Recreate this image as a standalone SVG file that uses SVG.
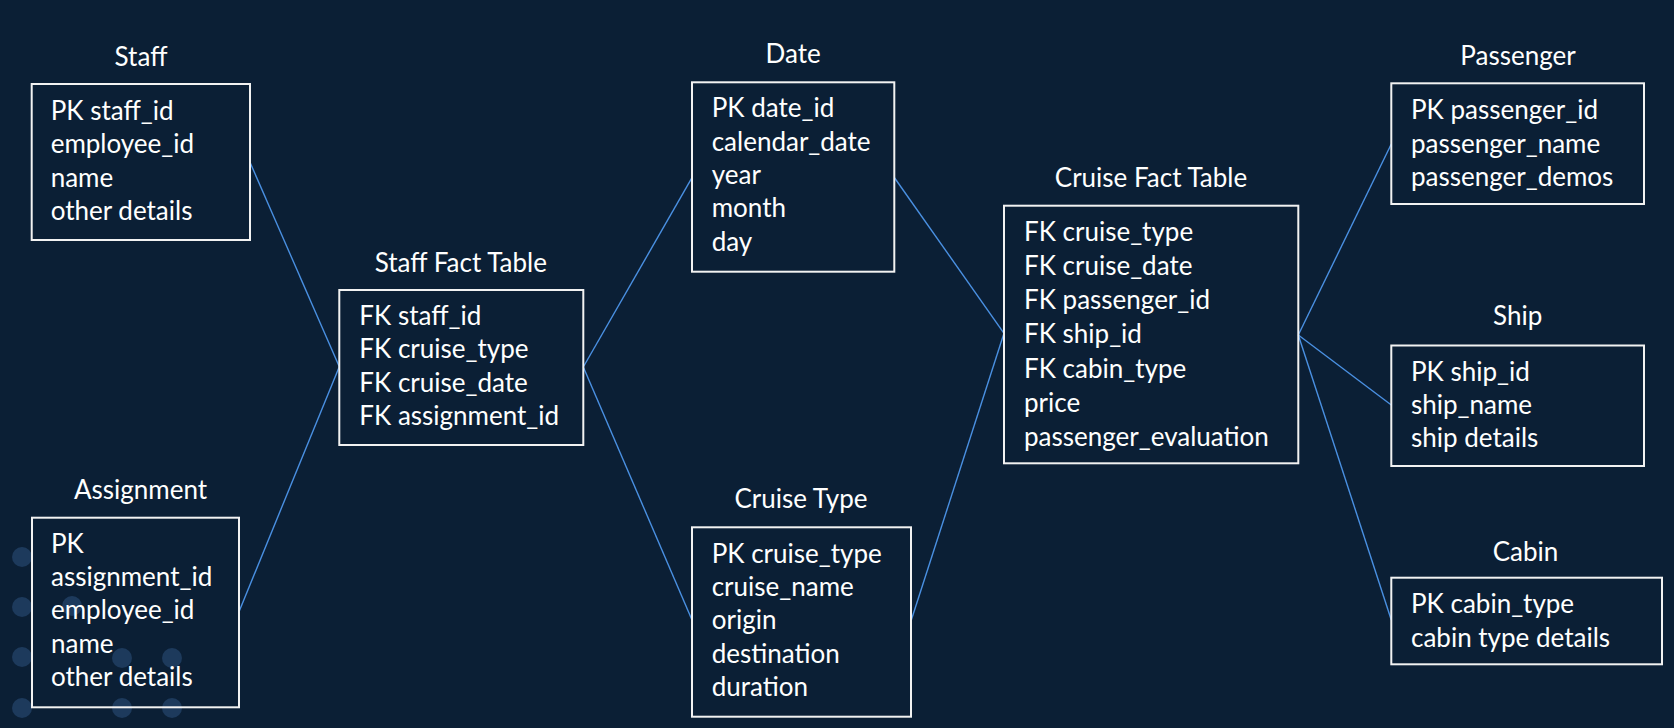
<svg xmlns="http://www.w3.org/2000/svg" width="1674" height="728" viewBox="0 0 1674 728">
<style>
.box{fill:none;stroke:#f2f2f2;stroke-width:2}
.t{font-family:Lato,"Liberation Sans",sans-serif;font-size:26px;fill:#ffffff}
.h{text-anchor:middle}
.c{stroke:#4a90e2;stroke-width:1.4;fill:none}
.dot{fill:#1d3a5c}
</style>
<rect width="1674" height="728" fill="#0b1f35"/>
<g id="decor">
<circle class="dot" cx="22" cy="557" r="10"/>
<circle class="dot" cx="22" cy="607" r="10"/>
<circle class="dot" cx="22" cy="657" r="10"/>
<circle class="dot" cx="22" cy="708" r="10"/>
<circle class="dot" cx="72" cy="606" r="10"/>
<circle class="dot" cx="122" cy="658" r="10"/>
<circle class="dot" cx="172" cy="658" r="10"/>
<circle class="dot" cx="122" cy="708" r="10"/>
<circle class="dot" cx="172" cy="708" r="10"/>
</g>
<g id="connectors">
<line class="c" x1="250" y1="162.3" x2="339.3" y2="366.7"/>
<line class="c" x1="239" y1="611.7" x2="339.3" y2="366.7"/>
<line class="c" x1="583.3" y1="367" x2="692" y2="177.7"/>
<line class="c" x1="583.3" y1="367" x2="692" y2="620"/>
<line class="c" x1="894.3" y1="177.5" x2="1004" y2="333.3"/>
<line class="c" x1="911" y1="621" x2="1004" y2="333.3"/>
<line class="c" x1="1298.3" y1="335" x2="1391.3" y2="144"/>
<line class="c" x1="1298.3" y1="335" x2="1391.3" y2="405"/>
<line class="c" x1="1298.3" y1="335" x2="1391.3" y2="620"/>
</g>
<g id="staff">
<text class="t h" x="141" y="66">Staff</text>
<rect class="box" x="31.7" y="84" width="218.3" height="156"/>
<text class="t" x="50.7" y="120">PK staff_id</text>
<text class="t" x="50.7" y="153.3">employee_id</text>
<text class="t" x="50.7" y="186.7">name</text>
<text class="t" x="50.7" y="220">other details</text>
</g>
<g id="assignment">
<text class="t h" x="140.5" y="499.3">Assignment</text>
<rect class="box" x="32" y="517.7" width="207" height="189.6"/>
<text class="t" x="51" y="552.7">PK</text>
<text class="t" x="51" y="586">assignment_id</text>
<text class="t" x="51" y="619.3">employee_id</text>
<text class="t" x="51" y="652.7">name</text>
<text class="t" x="51" y="686">other details</text>
</g>
<g id="staff-fact">
<text class="t h" x="460.8" y="271.7">Staff Fact Table</text>
<rect class="box" x="339.3" y="290" width="244" height="155"/>
<text class="t" x="359.3" y="325">FK staff_id</text>
<text class="t" x="359.3" y="358.3">FK cruise_type</text>
<text class="t" x="359.3" y="391.7">FK cruise_date</text>
<text class="t" x="359.3" y="425">FK assignment_id</text>
</g>
<g id="date">
<text class="t h" x="793.2" y="63.3">Date</text>
<rect class="box" x="692" y="82.3" width="202.3" height="189.4"/>
<text class="t" x="711.7" y="117.3">PK date_id</text>
<text class="t" x="711.7" y="150.7">calendar_date</text>
<text class="t" x="711.7" y="184">year</text>
<text class="t" x="711.7" y="217.3">month</text>
<text class="t" x="711.7" y="250.7">day</text>
</g>
<g id="cruise-type">
<text class="t h" x="801" y="508.3">Cruise Type</text>
<rect class="box" x="692" y="527.3" width="219" height="189.4"/>
<text class="t" x="711.7" y="562.7">PK cruise_type</text>
<text class="t" x="711.7" y="596">cruise_name</text>
<text class="t" x="711.7" y="629.3">origin</text>
<text class="t" x="711.7" y="662.7">destination</text>
<text class="t" x="711.7" y="696">duration</text>
</g>
<g id="cruise-fact">
<text class="t h" x="1151" y="187.3">Cruise Fact Table</text>
<rect class="box" x="1004" y="205.7" width="294.3" height="257.6"/>
<text class="t" x="1024" y="240.7">FK cruise_type</text>
<text class="t" x="1024" y="275">FK cruise_date</text>
<text class="t" x="1024" y="309.2">FK passenger_id</text>
<text class="t" x="1024" y="343.4">FK ship_id</text>
<text class="t" x="1024" y="377.6">FK cabin_type</text>
<text class="t" x="1024" y="411.8">price</text>
<text class="t" x="1024" y="446">passenger_evaluation</text>
</g>
<g id="passenger">
<text class="t h" x="1518" y="65">Passenger</text>
<rect class="box" x="1391.3" y="83.3" width="252.7" height="120.7"/>
<text class="t" x="1411" y="119">PK passenger_id</text>
<text class="t" x="1411" y="152.7">passenger_name</text>
<text class="t" x="1411" y="186.4">passenger_demos</text>
</g>
<g id="ship">
<text class="t h" x="1517.7" y="325">Ship</text>
<rect class="box" x="1391.3" y="345.5" width="252.7" height="120.5"/>
<text class="t" x="1411" y="380.7">PK ship_id</text>
<text class="t" x="1411" y="414">ship_name</text>
<text class="t" x="1411" y="447.3">ship details</text>
</g>
<g id="cabin">
<text class="t h" x="1525.5" y="560.7">Cabin</text>
<rect class="box" x="1391.3" y="577.7" width="270.7" height="86.6"/>
<text class="t" x="1411" y="613.3">PK cabin_type</text>
<text class="t" x="1411" y="646.7">cabin type details</text>
</g>
</svg>
